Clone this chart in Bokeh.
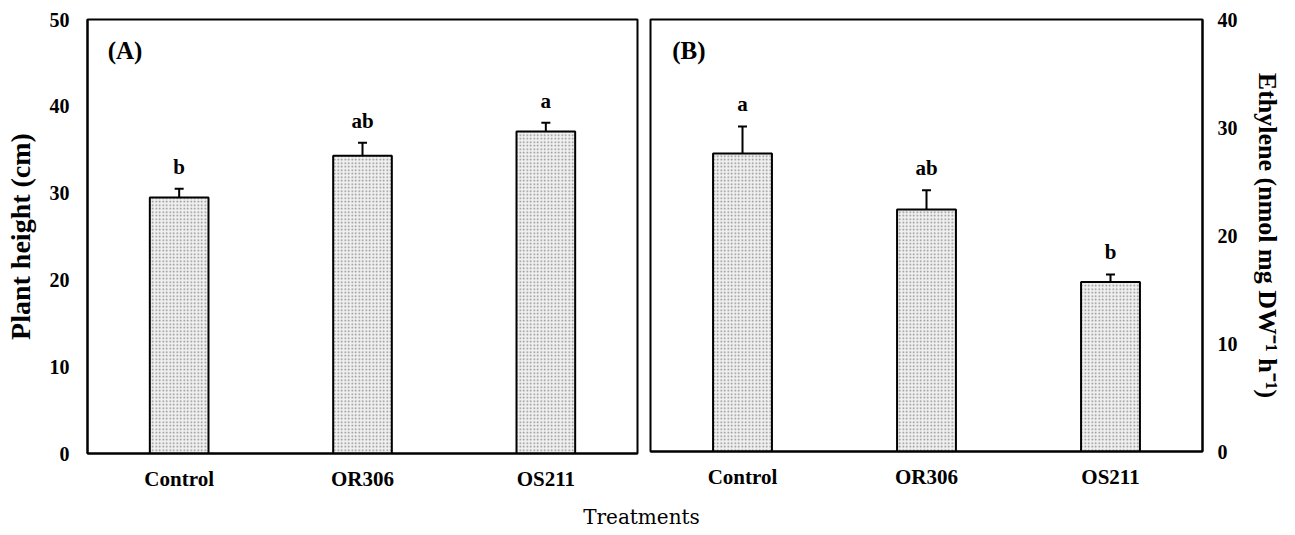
from bokeh.plotting import figure
from bokeh.models import (ColumnDataSource, FactorRange, Range1d, FixedTicker,
                          Whisker, TeeHead, Label)
from bokeh.layouts import row, column
from bokeh.core.properties import value
from bokeh.embed import file_html
from bokeh.resources import INLINE

# ---- data ----
treatments = ["Control", "OR306", "OS211"]
height_mean = [29.5, 34.3, 37.1]
height_err = [1.0, 1.5, 1.0]
height_letters = ["b", "ab", "a"]

ethylene_mean = [27.6, 22.4, 15.7]
ethylene_err = [2.5, 1.8, 0.7]
ethylene_letters = ["a", "ab", "b"]

y_ticks_a = [0, 10, 20, 30, 40, 50]
y_ticks_b = [0, 10, 20, 30, 40]

SERIF = "Liberation Serif"


def panel(means, errs, letters, ymax, ticks, ylabel, tag, loc, fw, fh,
          bl, br, bb, tag_y, tag_x, lab_so, axlab_so, axlab_size):
    src = ColumnDataSource(dict(
        x=treatments, top=means,
        upper=[m + e for m, e in zip(means, errs)],
        letters=letters))
    p = figure(x_range=FactorRange(*treatments, range_padding=0),
               y_range=Range1d(0, ymax), frame_width=fw, frame_height=fh,
               y_axis_location=loc, output_backend="svg",
               toolbar_location=None, min_border_left=bl,
               min_border_right=br, min_border_top=19, min_border_bottom=bb)
    p.vbar(x="x", top="top", width=0.32, source=src, fill_color="#f0f0f0",
           hatch_pattern=".", hatch_color="#8a8a8a", hatch_scale=3.5,
           hatch_weight=1, line_color="black", line_width=2)
    p.add_layout(Whisker(base="x", lower="top", upper="upper", source=src,
                         lower_head=None,
                         upper_head=TeeHead(size=9, line_width=2,
                                            line_color="black"),
                         line_color="black", line_width=2))
    p.text(x="x", y="upper", text="letters", source=src, y_offset=-22,
           text_align="center", text_baseline="alphabetic",
           text_font=value(SERIF), text_font_style="bold",
           text_font_size="21px", text_color="black")
    p.add_layout(Label(x=tag_x, y=tag_y, text=tag, text_font=SERIF,
                       text_font_style="bold", text_font_size="25px",
                       text_color="black",
                       text_baseline="alphabetic", text_align="left"))
    p.xgrid.visible = False
    p.ygrid.visible = False
    p.outline_line_color = "black"
    p.outline_line_width = 2
    p.outline_line_alpha = 1
    p.yaxis.ticker = FixedTicker(ticks=ticks)
    for ax in (p.xaxis, p.yaxis):
        ax.axis_line_color = "black"
        ax.axis_line_width = 2
        ax.major_tick_line_color = None
        ax.minor_tick_line_color = None
        ax.major_tick_out = 0
        ax.major_tick_in = 0
        ax.minor_tick_out = 0
        ax.minor_tick_in = 0
        ax.major_label_text_font = SERIF
        ax.major_label_text_font_style = "bold"
        ax.major_label_text_color = "black"
    p.yaxis.major_label_text_font_size = "20px"
    p.xaxis.major_label_text_font_size = "21px"
    p.xaxis.major_label_standoff = 13
    p.yaxis.major_label_standoff = lab_so
    p.yaxis.axis_label = ylabel
    p.yaxis.axis_label_text_font = SERIF
    p.yaxis.axis_label_text_font_style = "bold"
    p.yaxis.axis_label_text_font_size = axlab_size
    p.yaxis.axis_label_text_color = "black"
    p.yaxis.axis_label_standoff = axlab_so
    p.background_fill_color = "white"
    p.border_fill_color = "white"
    return p


pa = panel(height_mean, height_err, height_letters, 50, y_ticks_a,
           "Plant height (cm)", "(A)", "left", 550, 434, 87, 5, 37,
           46.4, 0.11, 18, 11, "28px")
pb = panel(ethylene_mean, ethylene_err, ethylene_letters, 40, y_ticks_b,
           "Ethylene (nmol mg DW\u207b\u00b9 h\u207b\u00b9)", "(B)", "right",
           552, 432, 8, 80, 39, 37.1, 0.118, 15, 12, "26px")

pt = figure(width=1282, height=40, x_range=Range1d(0, 1), y_range=Range1d(0, 1),
            output_backend="svg", toolbar_location=None, min_border=0)
pt.axis.visible = False
pt.grid.visible = False
pt.outline_line_color = None
pt.add_layout(Label(x=0.5, y=0.42, text="Treatments", text_font="DejaVu Serif",
                    text_font_size="20px", text_align="center",
                    text_baseline="middle", text_color="black"))

layout = column(row(pa, pb, spacing=0), pt, spacing=0)
open("out.html", "w").write(file_html(layout, INLINE))
